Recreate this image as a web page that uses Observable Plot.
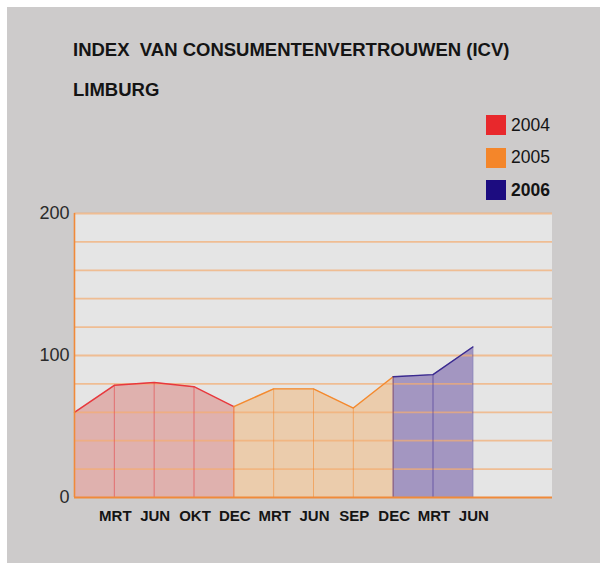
<!DOCTYPE html>
<html>
<head>
<meta charset="utf-8">
<script src="https://cdn.jsdelivr.net/npm/d3@7"></script>
<script src="https://cdn.jsdelivr.net/npm/@observablehq/plot@0.6"></script>
<style>
  html, body { margin: 0; padding: 0; background: #ffffff; }
  #frame { position: relative; width: 600px; height: 563px; overflow: hidden; background: #ffffff; }
  #bg { position: absolute; left: 7px; top: 7px; right: 0; bottom: 0; background: #cdcbcb; }
  .t { position: absolute; font-family: "Liberation Sans", Arial, sans-serif; font-weight: bold; color: #141414; white-space: nowrap; font-size: 18.5px; line-height: 1; }
  #title { left: 73px; top: 41px; }
  #sub { left: 73px; top: 81px; }
  .leg { position: absolute; left: 486px; height: 20px; font-family: "Liberation Sans", Arial, sans-serif; font-size: 17.5px; color: #141414; display: flex; align-items: center; }
  .sw { width: 20px; height: 20px; margin-right: 5px; }
  #chart { position: absolute; left: 0; top: 0; }
</style>
</head>
<body>
<div id="frame">
  <div id="bg"></div>
  <div class="t" id="title">INDEX&nbsp;&nbsp;VAN CONSUMENTENVERTROUWEN (ICV)</div>
  <div class="t" id="sub">LIMBURG</div>
  <div id="legend"></div>
  <div id="chart"></div>
</div>
<script>
// Data
const monthLabels = ["MRT", "JUN", "OKT", "DEC", "MRT", "JUN", "SEP", "DEC", "MRT", "JUN"];
const labelIndex = [1, 2, 3, 4, 5, 6, 7, 8, 9, 10];
const years = ["2004", "2005", "2006"];
const yearColors = ["#e8282c", "#f4862a", "#1c0c80"];
const idx2004 = [0, 1, 2, 3, 4];
const val2004 = [60, 79, 81, 78, 64];
const idx2005 = [4, 5, 6, 7, 8];
const val2005 = [64, 76.5, 76.5, 63, 85];
const idx2006 = [8, 9, 10];
const val2006 = [85, 86.5, 106];
const yTicks = [0, 100, 200];
const gridValues = [20, 40, 60, 80, 100, 120, 140, 160, 180, 200];

const series = [
  {year: "2004", idx: idx2004, val: val2004, fill: "#dc9d98", fillOpacity: 0.72, stroke: "#e8383d"},
  {year: "2005", idx: idx2005, val: val2005, fill: "#edbf91", fillOpacity: 0.68, stroke: "#f4892e"},
  {year: "2006", idx: idx2006, val: val2006, fill: "#9282b8", fillOpacity: 0.8, stroke: "#3a2a90"}
];
const rows = s => s.idx.map((x, i) => ({x, y: s.val[i]}));

// Legend
const legend = document.getElementById("legend");
years.forEach((y, i) => {
  const d = document.createElement("div");
  d.className = "leg";
  d.style.top = (115 + i * 32.5) + "px";
  d.style.fontWeight = i === 2 ? "bold" : "normal";
  d.innerHTML = `<div class="sw" style="background:${yearColors[i]}"></div><span>${y}</span>`;
  legend.appendChild(d);
});

const marks = [
  Plot.rect([0], {x1: 0, x2: 12, y1: 0, y2: 200, fill: "#e5e5e5"})
];
series.forEach(s => {
  marks.push(Plot.areaY(rows(s), {x: "x", y: "y", fill: s.fill, fillOpacity: s.fillOpacity}));
});
marks.push(Plot.ruleY(gridValues, {stroke: "#f3ad70", strokeWidth: 1.8, strokeOpacity: 0.7}));
series.forEach(s => {
  marks.push(Plot.ruleX(rows(s), {x: "x", y1: 0, y2: "y", stroke: s.stroke, strokeWidth: 1, strokeOpacity: 0.55}));
  marks.push(Plot.line(rows(s), {x: "x", y: "y", stroke: s.stroke, strokeWidth: 1.4}));
});
marks.push(Plot.ruleY([0], {stroke: "#f08a3a", strokeWidth: 2.2}));
marks.push(Plot.ruleX([0], {stroke: "#f08a3a", strokeWidth: 1.6}));
marks.push(Plot.axisY({ticks: yTicks, label: null, tickSize: 0, strokeOpacity: 0, tickPadding: 5, fontSize: 18, fill: "#2a2a2a", fontFamily: "Liberation Sans, Arial, sans-serif"}));
marks.push(Plot.axisX({ticks: labelIndex, label: null, tickSize: 0, strokeOpacity: 0, tickPadding: 13, fontSize: 15, fontWeight: "bold", fill: "#141414",
  fontFamily: "Liberation Sans, Arial, sans-serif", dx: 1, tickFormat: d => monthLabels[labelIndex.indexOf(d)]}));

const chart = Plot.plot({
  width: 600,
  height: 563,
  marginLeft: 74,
  marginRight: 48,
  marginTop: 213,
  marginBottom: 66,
  style: {background: "transparent", overflow: "visible"},
  x: {domain: [0, 12], axis: null},
  y: {domain: [0, 200], axis: null},
  marks
});
document.getElementById("chart").appendChild(chart);
</script>
</body>
</html>
